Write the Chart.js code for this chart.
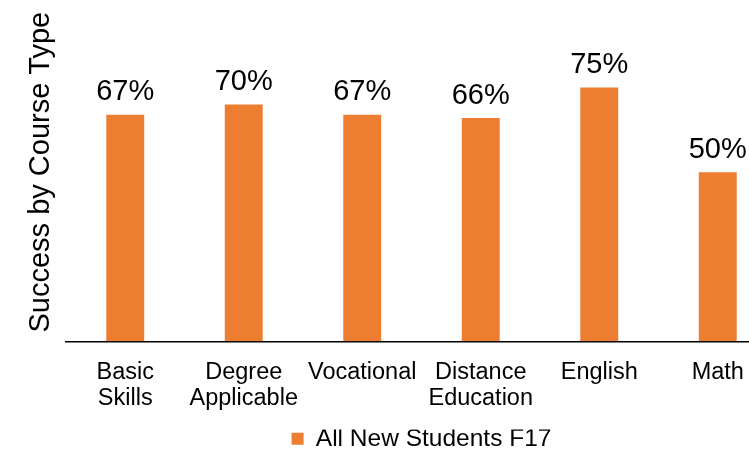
<!DOCTYPE html>
<html>
<head>
<meta charset="utf-8">
<script src="https://cdn.jsdelivr.net/npm/chart.js@4"></script>
<style>
html,body{margin:0;padding:0;overflow:hidden;width:749px;height:454px;background:#fff}
canvas{display:block}
</style>
</head>
<body>
<canvas id="c" width="777" height="461"></canvas>
<script>
const categories = [['Basic','Skills'], ['Degree','Applicable'], 'Vocational', ['Distance','Education'], 'English', 'Math'];
const seriesName = 'All New Students F17';
const successRates = [67, 70, 67, 66, 75, 50];
const axisTitle = 'Success by Course Type';
const valueLabels = successRates.map(v => Math.round(v) + '%');

const FONT = "'Liberation Sans', Arial, Helvetica, sans-serif";
Chart.defaults.font.family = FONT;
Chart.defaults.color = '#000';

const valueLabelPlugin = {
  id: 'valueLabels',
  afterDatasetsDraw(chart) {
    const ctx = chart.ctx;
    const meta = chart.getDatasetMeta(0);
    ctx.save();
    ctx.font = '29px ' + FONT;
    ctx.fillStyle = '#000';
    ctx.textAlign = 'center';
    ctx.textBaseline = 'alphabetic';
    meta.data.forEach((bar, i) => {
      ctx.fillText(valueLabels[i], bar.x, bar.y - 14.5);
    });
    ctx.restore();
  }
};

new Chart(document.getElementById('c'), {
  type: 'bar',
  data: {
    labels: categories,
    datasets: [{
      label: seriesName,
      data: successRates,
      backgroundColor: '#ED7D31',
      borderWidth: 0,
      barPercentage: 0.32,
      categoryPercentage: 1.0
    }]
  },
  options: {
    responsive: false,
    devicePixelRatio: 1,
    animation: false,
    layout: { padding: { top: 3, left: 0, right: 0, bottom: 0 } },
    scales: {
      x: {
        grid: { display: false, drawTicks: false },
        border: { display: true, color: '#000', width: 1.5 },
        ticks: { color: '#000', font: { size: 23.5, lineHeight: 1.09 }, padding: 18.5, maxRotation: 0, autoSkip: false }
      },
      y: {
        min: 0,
        max: 100,
        ticks: { display: false },
        grid: { display: false, drawTicks: false },
        border: { display: false },
        title: {
          display: true,
          text: axisTitle,
          color: '#000',
          font: { size: 29, lineHeight: 1.2 },
          padding: { top: 23.6, bottom: 7.6 }
        }
      }
    },
    plugins: {
      legend: {
        position: 'bottom',
        fullSize: false,
        labels: { boxWidth: 12, boxHeight: 12, padding: -3, color: '#000', font: { size: 24.5 } }
      },
      tooltip: { enabled: false }
    }
  },
  plugins: [valueLabelPlugin]
});
</script>
</body>
</html>
